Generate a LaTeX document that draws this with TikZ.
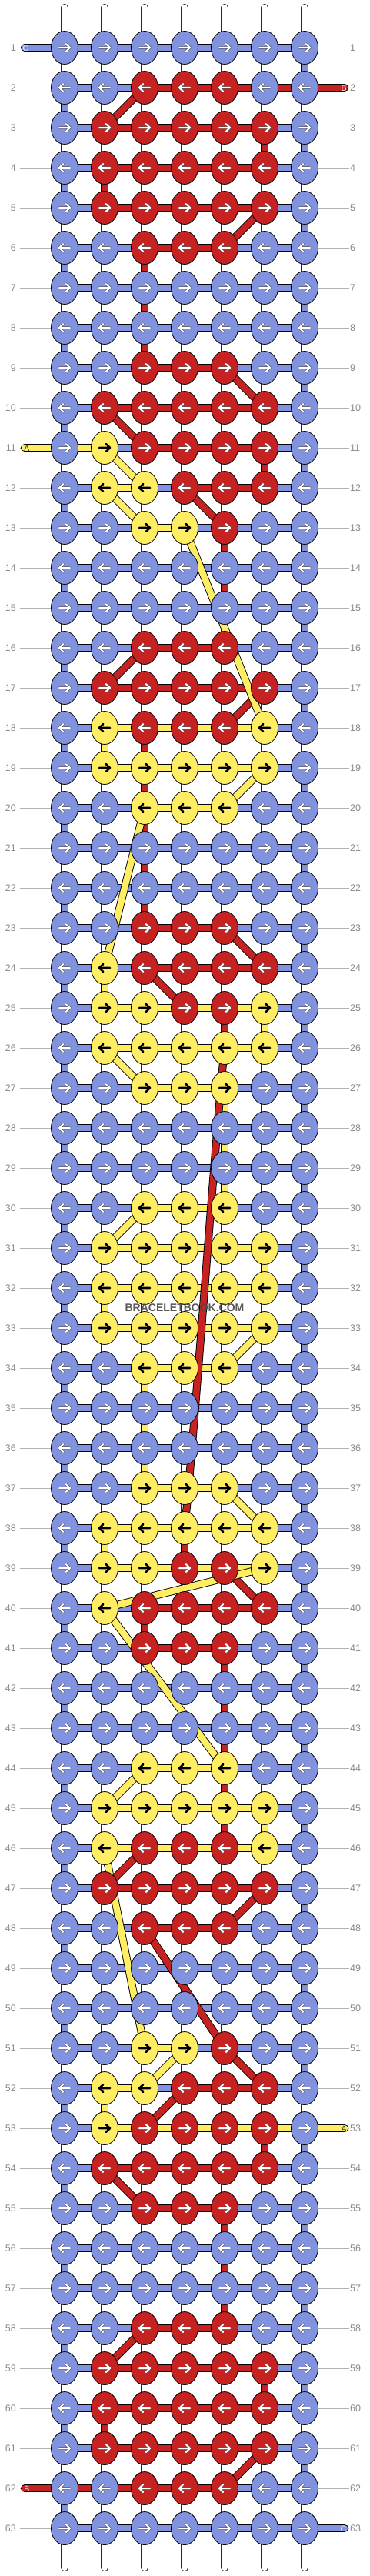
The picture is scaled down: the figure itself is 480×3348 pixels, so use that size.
\documentclass[tikz,border=0pt]{standalone}
\usepackage{fontspec}
\setmainfont{Liberation Sans}
\usetikzlibrary{shapes.geometric}
\definecolor{kb}{RGB}{129,147,222}
\definecolor{kr}{RGB}{198,34,34}
\definecolor{ky}{RGB}{255,238,100}
\pgfdeclarelayer{strings}
\pgfdeclarelayer{bars}
\pgfdeclarelayer{diags}
\pgfsetlayers{strings,bars,diags,main}
\begin{document}
\begin{tikzpicture}[x=1pt, y=-1pt,
  knot/.style={ellipse, draw=black, line width=0.8pt, minimum width=35pt, minimum height=43pt, inner sep=0pt, outer sep=0pt},
  cbar/.style={draw=black, line width=0.9pt, double=#1, double distance=8.4pt},
  tailbar/.style={cbar=#1, line cap=round},
  bgstring/.style={draw=black!85, line width=0.9pt, double=white, double distance=8.4pt, line cap=round},
  strmid/.style={draw=black!35, line width=0.7pt},
  rowline/.style={draw=black!30, line width=0.8pt},
  rowlab/.style={text=black!45, font=\fontsize{12.5}{14}\selectfont, inner sep=0pt},
  taillab/.style={font=\fontsize{10.5}{12}\selectfont, inner sep=0pt},
  arrout-b/.style={draw=black!65, line width=3.4pt, line cap=round, line join=round},
  arrin-b/.style={draw=white, line width=2pt, line cap=round, line join=round},
  arrout-r/.style={arrout-b}, arrin-r/.style={arrin-b},
  arrout-y/.style={},
  arrin-y/.style={draw=black, line width=2.6pt, line cap=round, line join=round},
]
\useasboundingbox (0,0) rectangle (480,3348);
\begin{pgfonlayer}{strings}
\fill[white] (0,0) rectangle (480,3348);
\end{pgfonlayer}

% knots
\foreach \r/\K in {
1/{b,b,b,b,b,b,b}, 2/{b,b,r,r,r,b,b}, 3/{b,r,r,r,r,r,b}, 4/{b,r,r,r,r,r,b}, 5/{b,r,r,r,r,r,b},
6/{b,b,r,r,r,b,b}, 7/{b,b,b,b,b,b,b}, 8/{b,b,b,b,b,b,b}, 9/{b,b,r,r,r,b,b}, 10/{b,r,r,r,r,r,b},
11/{b,y,r,r,r,r,b}, 12/{b,y,y,r,r,r,b}, 13/{b,b,y,y,r,b,b}, 14/{b,b,b,b,b,b,b}, 15/{b,b,b,b,b,b,b},
16/{b,b,r,r,r,b,b}, 17/{b,r,r,r,r,r,b}, 18/{b,y,r,r,r,y,b}, 19/{b,y,y,y,y,y,b}, 20/{b,b,y,y,y,b,b},
21/{b,b,b,b,b,b,b}, 22/{b,b,b,b,b,b,b}, 23/{b,b,r,r,r,b,b}, 24/{b,y,r,r,r,r,b}, 25/{b,y,y,r,r,y,b},
26/{b,y,y,y,y,y,b}, 27/{b,b,y,y,y,b,b}, 28/{b,b,b,b,b,b,b}, 29/{b,b,b,b,b,b,b}, 30/{b,b,y,y,y,b,b},
31/{b,y,y,y,y,y,b}, 32/{b,y,y,y,y,y,b}, 33/{b,y,y,y,y,y,b}, 34/{b,b,y,y,y,b,b}, 35/{b,b,b,b,b,b,b},
36/{b,b,b,b,b,b,b}, 37/{b,b,y,y,y,b,b}, 38/{b,y,y,y,y,y,b}, 39/{b,y,y,r,r,y,b}, 40/{b,y,r,r,r,r,b},
41/{b,b,r,r,r,b,b}, 42/{b,b,b,b,b,b,b}, 43/{b,b,b,b,b,b,b}, 44/{b,b,y,y,y,b,b}, 45/{b,y,y,y,y,y,b},
46/{b,y,r,r,r,y,b}, 47/{b,r,r,r,r,r,b}, 48/{b,b,r,r,r,b,b}, 49/{b,b,b,b,b,b,b}, 50/{b,b,b,b,b,b,b},
51/{b,b,y,y,r,b,b}, 52/{b,y,y,r,r,r,b}, 53/{b,y,r,r,r,r,b}, 54/{b,r,r,r,r,r,b}, 55/{b,b,r,r,r,b,b},
56/{b,b,b,b,b,b,b}, 57/{b,b,b,b,b,b,b}, 58/{b,b,r,r,r,b,b}, 59/{b,r,r,r,r,r,b}, 60/{b,r,r,r,r,r,b},
61/{b,r,r,r,r,r,b}, 62/{b,b,r,r,r,b,b}, 63/{b,b,b,b,b,b,b}} {
  \pgfmathsetmacro\yy{62+52*(\r-1)}
  \pgfmathsetmacro\dd{2*isodd(\r)-1}
  \foreach \k [count=\c] in \K {
    \pgfmathsetmacro\xx{84+52*(\c-1)}
    \node[knot, fill=k\k] (n\r-\c) at (\xx,\yy) {};
    \begin{scope}[shift={(\xx,\yy)}, xscale=\dd]
      \path[arrout-\k] (-7,0) -- (7,0) (1.8,-5) -- (7,0) -- (1.8,5);
      \path[arrin-\k] (-7,0) -- (7,0) (1.8,-5) -- (7,0) -- (1.8,5);
    \end{scope}
  }
  % row lines and labels
  \begin{pgfonlayer}{strings}
    \coordinate (ll\r) at (26,\yy);
    \coordinate (rl\r) at (454,\yy);
    \draw[rowline] (ll\r) -- (n\r-1.center);
    \draw[rowline] (n\r-7.center) -- (rl\r);
    \node[rowlab, anchor=east] (lab\r) at (21,\yy) {\r};
    \node[rowlab, anchor=west] (rab\r) at (455,\yy) {\r};
  \end{pgfonlayer}
}

% background vertical strings
\begin{pgfonlayer}{strings}
\foreach \c in {1,...,7} {
  \pgfmathsetmacro\xx{84+52*(\c-1)}
  \coordinate (top\c) at (\xx,10);
  \coordinate (bot\c) at (\xx,3337);
  \draw[bgstring] (top\c) -- (bot\c);
  \draw[strmid] (top\c) -- (bot\c);
}
\end{pgfonlayer}

% horizontal bars
\begin{pgfonlayer}{bars}
\foreach \r/\H in {
1/{b,b,b,b,b,b}, 2/{b,b,r,r,r,r}, 3/{b,r,r,r,r,b}, 4/{b,r,r,r,r,b}, 5/{b,r,r,r,r,b},
6/{b,b,r,r,b,b}, 7/{b,b,b,b,b,b}, 8/{b,b,b,b,b,b}, 9/{b,b,r,r,b,b}, 10/{b,r,r,r,r,b},
11/{y,b,r,r,r,b}, 12/{b,y,b,r,r,b}, 13/{b,b,y,b,b,b}, 14/{b,b,b,b,b,b}, 15/{b,b,b,b,b,b},
16/{b,b,r,r,b,b}, 17/{b,r,r,r,r,b}, 18/{b,y,y,y,y,b}, 19/{b,y,y,y,y,b}, 20/{b,b,y,y,b,b},
21/{b,b,b,b,b,b}, 22/{b,b,b,b,b,b}, 23/{b,b,r,r,b,b}, 24/{b,b,r,r,r,b}, 25/{b,y,y,y,y,b},
26/{b,y,y,y,y,b}, 27/{b,b,y,y,b,b}, 28/{b,b,b,b,b,b}, 29/{b,b,b,b,b,b}, 30/{b,b,y,y,b,b},
31/{b,y,y,y,y,b}, 32/{b,y,y,y,y,b}, 33/{b,y,y,y,y,b}, 34/{b,b,y,y,b,b}, 35/{b,b,b,b,b,b},
36/{b,b,b,b,b,b}, 37/{b,b,y,y,b,b}, 38/{b,y,y,y,y,b}, 39/{b,y,y,y,y,b}, 40/{b,b,r,r,r,b},
41/{b,b,r,r,b,b}, 42/{b,b,b,b,b,b}, 43/{b,b,b,b,b,b}, 44/{b,b,y,y,b,b}, 45/{b,y,y,y,y,b},
46/{b,y,y,y,y,b}, 47/{b,r,r,r,r,b}, 48/{b,b,r,r,b,b}, 49/{b,b,b,b,b,b}, 50/{b,b,b,b,b,b},
51/{b,b,y,b,b,b}, 52/{b,y,b,r,r,b}, 53/{b,y,y,y,y,y}, 54/{b,r,r,r,r,b}, 55/{b,b,r,r,b,b},
56/{b,b,b,b,b,b}, 57/{b,b,b,b,b,b}, 58/{b,b,r,r,b,b}, 59/{b,r,r,r,r,b}, 60/{b,r,r,r,r,b},
61/{b,r,r,r,r,b}, 62/{r,r,r,r,b,b}, 63/{b,b,b,b,b,b}} {
  \foreach \h [count=\c] in \H {
    \pgfmathtruncatemacro\cn{\c+1}
    \draw[cbar=k\h] (n\r-\c.center) -- (n\r-\cn.center);
  }
}
% blue snake verticals
\foreach \r in {1,...,62} {
  \pgfmathtruncatemacro\rn{\r+1}
  \pgfmathtruncatemacro\cc{isodd(\r) ? 7 : 1}
  \draw[cbar=kb] (n\r-\cc.center) -- (n\rn-\cc.center);
}
% coloured verticals
\foreach \r/\c/\k in {3/6/r, 4/2/r, 6/3/r, 7/3/r, 8/3/r, 11/6/r, 13/5/r, 14/5/r, 18/2/y, 18/3/r,
  19/3/r, 20/3/r, 21/3/r, 22/3/r, 24/2/y, 25/5/r, 25/6/y, 27/5/y, 28/5/y, 29/5/y, 31/6/y, 32/2/y,
  34/3/y, 35/3/y, 36/3/y, 38/2/y, 38/4/r, 40/3/r, 41/5/r, 42/5/r, 43/5/r, 44/5/r, 45/5/r, 45/6/y,
  52/2/y, 53/6/r, 55/5/r, 56/5/r, 57/5/r, 59/6/r, 60/2/r} {
  \pgfmathtruncatemacro\rn{\r+1}
  \draw[cbar=k\k] (n\r-\c.center) -- (n\rn-\c.center);
}
% tails
\coordinate (tC1) at (32,62);
\coordinate (tB2) at (448,114);
\coordinate (tA11) at (32,582);
\coordinate (tA53) at (448,2766);
\coordinate (tB62) at (32,3234);
\coordinate (tC63) at (448,3286);
\draw[tailbar=kb] (tC1) -- (n1-1.center);
\draw[tailbar=kr] (n2-7.center) -- (tB2);
\draw[tailbar=ky] (tA11) -- (n11-1.center);
\draw[tailbar=ky] (n53-7.center) -- (tA53);
\draw[tailbar=kr] (tB62) -- (n62-1.center);
\draw[tailbar=kb] (n63-7.center) -- (tC63);
\node[taillab, text=white!85!kb] at (33.5,62.5) {C};
\node[taillab, text=white] at (447,114.5) {B};
\node[taillab, text=black!80] at (35,582.5) {A};
\node[taillab, text=black!80] at (447,2766.5) {A};
\node[taillab, text=white] at (35,3234.5) {B};
\node[taillab, text=white!85!kb] at (446.5,3286.5) {C};
\end{pgfonlayer}

% diagonals
\begin{pgfonlayer}{diags}
\foreach \ra/\ca/\rb/\cb/\k in {2/3/3/2/r, 5/6/6/5/r, 9/5/10/6/r, 10/2/11/3/r, 12/4/13/5/r,
  16/3/17/2/r, 17/6/18/5/r, 23/5/24/6/r, 24/3/25/4/r, 39/5/40/6/r, 46/3/47/2/r, 47/6/48/5/r,
  48/3/51/5/r, 51/5/52/6/r, 52/4/53/3/r, 54/2/55/3/r, 58/3/59/2/r, 61/6/62/5/r,
  11/2/12/3/y, 12/2/13/3/y, 13/4/18/6/y, 19/6/20/5/y, 20/3/24/2/y, 26/2/27/3/y, 30/3/31/2/y,
  33/6/34/5/y, 37/5/38/6/y, 39/6/40/2/y, 40/2/44/5/y, 44/3/45/2/y, 46/2/51/3/y, 51/4/52/3/y} {
  \draw[cbar=k\k] (n\ra-\ca.center) -- (n\rb-\cb.center);
}
\draw[cbar=kr] (n26-5.center) .. controls (282,1450) and (250,1900) .. (n38-4.center);
\end{pgfonlayer}

\node[font=\fontsize{14}{14}\selectfont\bfseries, text=black!72, opacity=0.9, inner sep=0pt] (wm) at (240,1700) {BRACELETBOOK.COM};
\end{tikzpicture}
\end{document}
